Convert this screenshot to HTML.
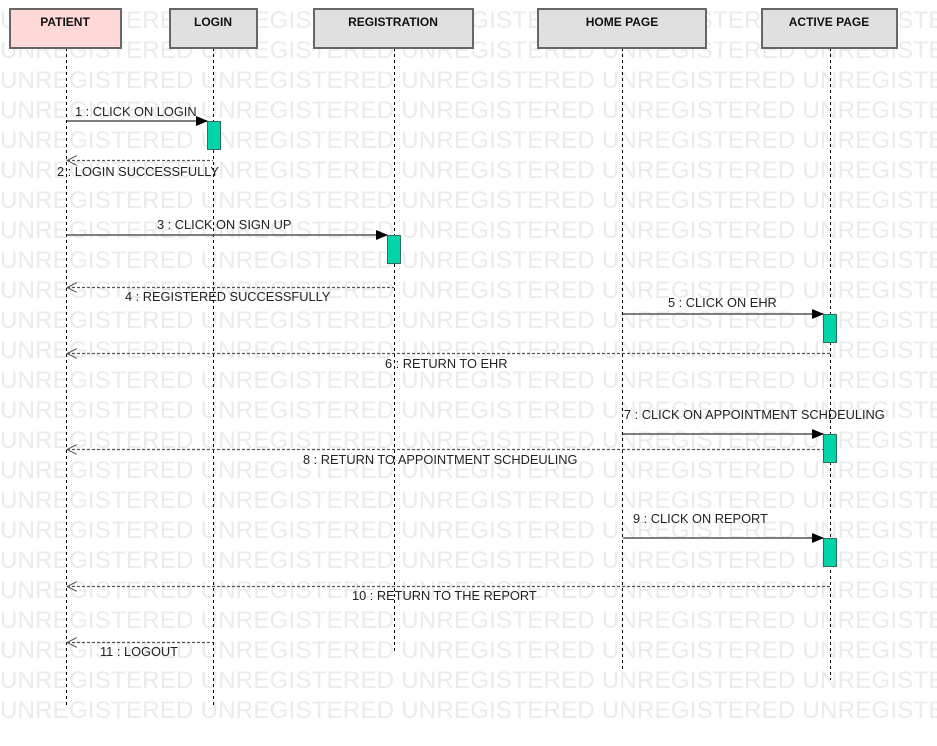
<!DOCTYPE html>
<html><head><style>body{margin:0;background:#fff}svg{display:block}</style></head><body>
<svg width="937" height="746" xmlns="http://www.w3.org/2000/svg" font-family="Liberation Sans, sans-serif">
<defs>
<marker id="f" markerWidth="12" markerHeight="10" refX="11" refY="5" orient="auto" markerUnits="userSpaceOnUse"><path d="M0,0 L12,5 L0,10 Z" fill="#000"/></marker>
<marker id="o" markerWidth="12" markerHeight="10" refX="1" refY="5" orient="auto" markerUnits="userSpaceOnUse"><path d="M11,0 L1,5 L11,10" fill="none" stroke="#555" stroke-width="1"/></marker>
</defs>
<g fill="#ebebeb" font-size="24" letter-spacing="0.25">
<text x="0" y="28">UNREGISTERED UNREGISTERED UNREGISTERED UNREGISTERED UNREGISTERED</text>
<text x="0" y="58">UNREGISTERED UNREGISTERED UNREGISTERED UNREGISTERED UNREGISTERED</text>
<text x="0" y="88">UNREGISTERED UNREGISTERED UNREGISTERED UNREGISTERED UNREGISTERED</text>
<text x="0" y="118">UNREGISTERED UNREGISTERED UNREGISTERED UNREGISTERED UNREGISTERED</text>
<text x="0" y="148">UNREGISTERED UNREGISTERED UNREGISTERED UNREGISTERED UNREGISTERED</text>
<text x="0" y="178">UNREGISTERED UNREGISTERED UNREGISTERED UNREGISTERED UNREGISTERED</text>
<text x="0" y="208">UNREGISTERED UNREGISTERED UNREGISTERED UNREGISTERED UNREGISTERED</text>
<text x="0" y="238">UNREGISTERED UNREGISTERED UNREGISTERED UNREGISTERED UNREGISTERED</text>
<text x="0" y="268">UNREGISTERED UNREGISTERED UNREGISTERED UNREGISTERED UNREGISTERED</text>
<text x="0" y="298">UNREGISTERED UNREGISTERED UNREGISTERED UNREGISTERED UNREGISTERED</text>
<text x="0" y="328">UNREGISTERED UNREGISTERED UNREGISTERED UNREGISTERED UNREGISTERED</text>
<text x="0" y="358">UNREGISTERED UNREGISTERED UNREGISTERED UNREGISTERED UNREGISTERED</text>
<text x="0" y="388">UNREGISTERED UNREGISTERED UNREGISTERED UNREGISTERED UNREGISTERED</text>
<text x="0" y="418">UNREGISTERED UNREGISTERED UNREGISTERED UNREGISTERED UNREGISTERED</text>
<text x="0" y="448">UNREGISTERED UNREGISTERED UNREGISTERED UNREGISTERED UNREGISTERED</text>
<text x="0" y="478">UNREGISTERED UNREGISTERED UNREGISTERED UNREGISTERED UNREGISTERED</text>
<text x="0" y="508">UNREGISTERED UNREGISTERED UNREGISTERED UNREGISTERED UNREGISTERED</text>
<text x="0" y="538">UNREGISTERED UNREGISTERED UNREGISTERED UNREGISTERED UNREGISTERED</text>
<text x="0" y="568">UNREGISTERED UNREGISTERED UNREGISTERED UNREGISTERED UNREGISTERED</text>
<text x="0" y="598">UNREGISTERED UNREGISTERED UNREGISTERED UNREGISTERED UNREGISTERED</text>
<text x="0" y="628">UNREGISTERED UNREGISTERED UNREGISTERED UNREGISTERED UNREGISTERED</text>
<text x="0" y="658">UNREGISTERED UNREGISTERED UNREGISTERED UNREGISTERED UNREGISTERED</text>
<text x="0" y="688">UNREGISTERED UNREGISTERED UNREGISTERED UNREGISTERED UNREGISTERED</text>
<text x="0" y="718">UNREGISTERED UNREGISTERED UNREGISTERED UNREGISTERED UNREGISTERED</text>
</g>
<g stroke="#000" stroke-dasharray="3,3" stroke-width="1">
<line x1="66.5" y1="48" x2="66.5" y2="705"/>
<line x1="213.5" y1="48" x2="213.5" y2="705"/>
<line x1="394.5" y1="48" x2="394.5" y2="652"/>
<line x1="622.5" y1="48" x2="622.5" y2="670"/>
<line x1="830.5" y1="48" x2="830.5" y2="680"/>
</g>
<g stroke="#666" stroke-width="2" font-size="12" font-weight="bold" text-anchor="middle">
<rect x="10" y="9" width="111" height="39" fill="#ffd8d8"/>
<rect x="170" y="9" width="87" height="39" fill="#e0e0e0"/>
<rect x="314" y="9" width="159" height="39" fill="#e0e0e0"/>
<rect x="538" y="9" width="168" height="39" fill="#e0e0e0"/>
<rect x="762" y="9" width="135" height="39" fill="#e0e0e0"/>
<g stroke="none" fill="#111">
<text x="65" y="26">PATIENT</text>
<text x="213" y="26">LOGIN</text>
<text x="393" y="26">REGISTRATION</text>
<text x="622" y="26">HOME PAGE</text>
<text x="829" y="26">ACTIVE PAGE</text>
</g>
</g>
<g fill="#00d4a8" stroke="#2f6f60" stroke-width="1">
<rect x="207.5" y="121.5" width="13" height="28"/>
<rect x="387.5" y="235.5" width="13" height="28"/>
<rect x="823.5" y="314.5" width="13" height="28"/>
<rect x="823.5" y="434.5" width="13" height="28"/>
<rect x="823.5" y="538.5" width="13" height="28"/>
</g>
<g stroke="#555" stroke-width="1.5" fill="none">
<line x1="67" y1="121" x2="207" y2="121" marker-end="url(#f)"/>
<line x1="67" y1="235" x2="387" y2="235" marker-end="url(#f)"/>
<line x1="623" y1="314" x2="823" y2="314" marker-end="url(#f)"/>
<line x1="623" y1="434" x2="823" y2="434" marker-end="url(#f)"/>
<line x1="623" y1="538" x2="823" y2="538" marker-end="url(#f)"/>
</g>
<g stroke="#555" stroke-width="1.2" stroke-dasharray="3,2" fill="none">
<line x1="67" y1="160.5" x2="213" y2="160.5" marker-start="url(#o)"/>
<line x1="67" y1="287.5" x2="394" y2="287.5" marker-start="url(#o)"/>
<line x1="67" y1="353.5" x2="830" y2="353.5" marker-start="url(#o)"/>
<line x1="67" y1="449.5" x2="823" y2="449.5" marker-start="url(#o)"/>
<line x1="67" y1="586.5" x2="830" y2="586.5" marker-start="url(#o)"/>
<line x1="67" y1="642.5" x2="213" y2="642.5" marker-start="url(#o)"/>
</g>
<g font-size="12.8" fill="#222">
<text x="75" y="116">1 : CLICK ON LOGIN</text>
<text x="57" y="176">2 : LOGIN SUCCESSFULLY</text>
<text x="157" y="229">3 : CLICK ON SIGN UP</text>
<text x="125" y="301">4 : REGISTERED SUCCESSFULLY</text>
<text x="668" y="307">5 : CLICK ON EHR</text>
<text x="385" y="368">6 : RETURN TO EHR</text>
<text x="624" y="419">7 : CLICK ON APPOINTMENT SCHDEULING</text>
<text x="303" y="464">8 : RETURN TO APPOINTMENT SCHDEULING</text>
<text x="633" y="523">9 : CLICK ON REPORT</text>
<text x="352" y="600">10 : RETURN TO THE REPORT</text>
<text x="100" y="656">11 : LOGOUT</text>
</g>
</svg>
</body></html>
